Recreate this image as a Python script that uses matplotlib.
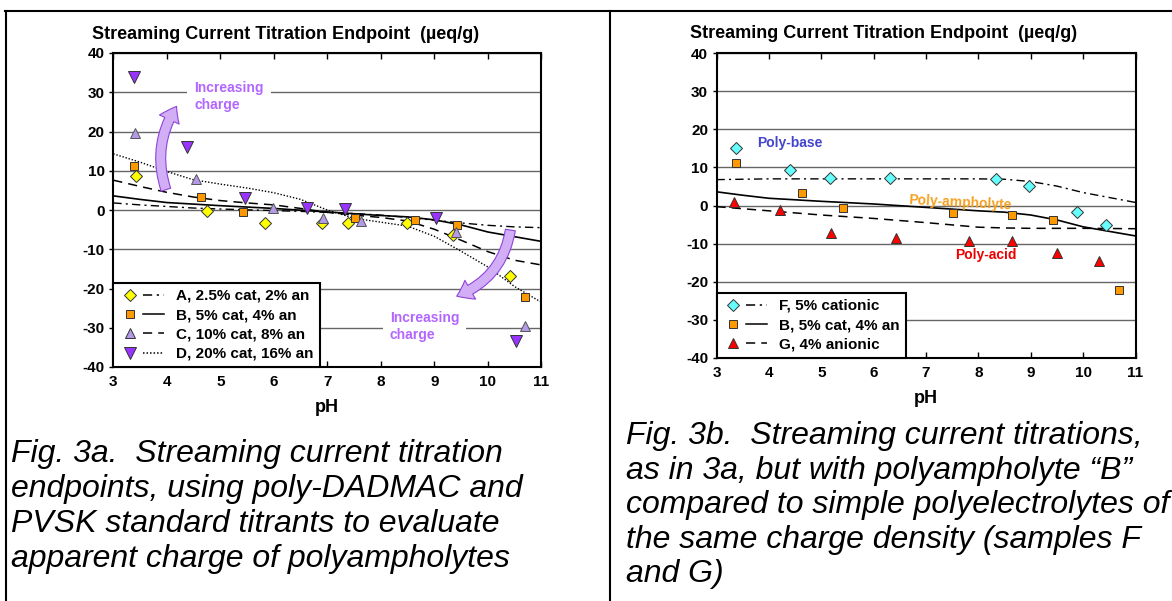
import matplotlib.pyplot as plt
from matplotlib.lines import Line2D
from matplotlib.legend_handler import HandlerTuple
from matplotlib.patches import FancyArrowPatch

plt.rcParams['font.family'] = ['Liberation Sans', 'DejaVu Sans']
plt.rcParams['axes.unicode_minus'] = False

# ---- data ----
# Fig 3a markers
ph_a = [3.42, 4.75, 5.83, 6.91, 7.39, 8.49, 9.35, 10.41]
val_a = [8.6, -0.3, -3.2, -3.2, -3.2, -3.2, -6.4, -16.7]
ph_b = [3.38, 4.64, 5.42, 7.52, 8.64, 9.43, 10.69]
val_b = [11.1, 3.2, -0.6, -2.1, -2.6, -3.9, -22.1]
ph_c = [3.40, 4.54, 5.98, 6.92, 7.63, 9.41, 10.69]
val_c = [19.7, 7.9, 0.5, -2.0, -2.7, -5.6, -29.5]
ph_d = [3.38, 4.38, 5.46, 6.62, 7.34, 9.04, 10.52]
val_d = [33.8, 16.0, 3.1, 0.4, 0.2, -2.0, -33.3]

# Fig 3b markers
ph_f = [3.38, 4.40, 5.17, 6.32, 8.34, 8.97, 9.88, 10.44]
val_f = [15.1, 9.2, 7.1, 7.1, 6.9, 5.0, -1.8, -5.0]
ph_g = [3.33, 4.22, 5.18, 6.42, 7.83, 8.64, 9.50, 10.30]
val_g = [0.8, -1.1, -7.3, -8.5, -9.3, -9.3, -12.4, -14.5]

# trend curves (read at these pH values)
curve_ph = [3, 3.5, 4, 4.5, 5, 5.5, 6, 6.5, 7, 7.5, 8, 8.5, 9, 9.5, 10, 10.5, 11]
curve_a = [1.8, 1.3, 0.9, 0.5, 0.25, 0.05, -0.15, -0.35, -0.6, -0.9, -1.3, -1.9, -2.6, -3.3, -3.9, -4.3, -4.5]
curve_b = [3.6, 2.7, 1.9, 1.5, 1.1, 0.75, 0.4, -0.05, -0.5, -0.95, -1.4, -1.75, -2.5, -3.8, -5.6, -6.8, -8.0]
curve_c = [7.6, 6.0, 4.5, 3.3, 2.4, 1.8, 1.3, 0.4, -0.6, -1.3, -1.9, -2.8, -4.9, -7.7, -10.6, -12.8, -14.0]
curve_d = [14.3, 12.2, 9.8, 7.7, 6.6, 5.6, 4.4, 2.7, 0.0, -2.1, -3.1, -4.1, -6.7, -10.5, -14.5, -19.5, -23.5]
curve_f = [6.8, 6.9, 7.0, 7.0, 7.0, 7.0, 7.0, 7.0, 7.0, 7.0, 7.0, 6.9, 6.3, 5.1, 3.4, 2.1, 0.8]
curve_g = [-0.3, -0.85, -1.4, -1.95, -2.5, -2.95, -3.4, -3.95, -4.5, -5.1, -5.7, -5.9, -6.0, -6.0, -6.0, -6.05, -6.1]

x_ticks = list(range(3, 12))
y_ticks = list(range(-40, 41, 10))

title = 'Streaming Current Titration Endpoint  (\u00b5eq/g)'
caption_a = ('Fig. 3a.  Streaming current titration\n'
             'endpoints, using poly-DADMAC and\n'
             'PVSK standard titrants to evaluate\n'
             'apparent charge of polyampholytes')
caption_b = ('Fig. 3b.  Streaming current titrations,\n'
             'as in 3a, but with polyampholyte \u201cB\u201d\n'
             'compared to simple polyelectrolytes of\n'
             'the same charge density (samples F\n'
             'and G)')

W, H = 1172, 601
fig = plt.figure(figsize=(W / 100, H / 100), dpi=100)


def px_axes(x0, y0, x1, y1):
    return fig.add_axes([x0 / W, 1 - y1 / H, (x1 - x0) / W, (y1 - y0) / H])


def style(ax):
    ax.set_xlim(3, 11)
    ax.set_ylim(-40, 40)
    ax.set_xticks(x_ticks)
    ax.set_yticks(y_ticks)
    ax.yaxis.grid(True, color='#666666', lw=1.0)
    ax.set_axisbelow(True)
    ax.tick_params(axis='x', direction='in', top=True, length=4, width=1, pad=6, labelsize=11)
    ax.tick_params(axis='y', direction='out', length=3, width=1, pad=3, labelsize=11)
    for lab in ax.get_xticklabels() + ax.get_yticklabels():
        lab.set_fontweight('bold')
    for s in ax.spines.values():
        s.set_linewidth(1.5)
    ax.set_xlabel('pH', fontsize=13, fontweight='bold', labelpad=7)


def add_legend(ax, entries):
    handles, labels = [], []
    for mk, ms, fc, ls, lab in entries:
        m = Line2D([], [], ls='none', marker=mk, ms=ms, mfc=fc, mec='#333333', mew=0.7)
        l = Line2D([], [], color='black', lw=1.1, ls=ls)
        handles.append((m, l))
        labels.append(lab)
    leg = ax.legend(handles, labels, handler_map={tuple: HandlerTuple(ndivide=None, pad=0.2)},
                    loc='lower left', bbox_to_anchor=(0, 0), borderaxespad=0,
                    fancybox=False, framealpha=1, edgecolor='black',
                    handlelength=2.9, handletextpad=0.8, labelspacing=0.35, borderpad=0.4,
                    prop={'weight': 'bold', 'size': 11})
    leg.get_frame().set_linewidth(1.5)
    leg.set_zorder(5)


dashdot = (0, (6, 3, 1.5, 3))
dashed = (0, (6, 4))
dotted = (0, (1, 1.3))
purple = '#B266FF'
ms_sq, ms_dia, ms_up, ms_down, ms_red = 6.0, 6.0, 6.5, 8.5, 7.5

# ---- Fig 3a ----
ax1 = px_axes(113.3, 53, 541.3, 367)
style(ax1)
ax1.plot(curve_ph, curve_a, color='black', lw=1.0, ls=dashdot, zorder=2)
ax1.plot(curve_ph, curve_b, color='black', lw=1.2, ls='-', zorder=2)
ax1.plot(curve_ph, curve_c, color='black', lw=1.1, ls=dashed, zorder=2)
ax1.plot(curve_ph, curve_d, color='black', lw=1.0, ls=dotted, zorder=2)
ax1.plot(ph_a, val_a, ls='none', marker='D', ms=ms_dia, mfc='#FFFF00', mec='#333333', mew=0.7, zorder=3)
ax1.plot(ph_b, val_b, ls='none', marker='s', ms=ms_sq, mfc='#FF9900', mec='#333333', mew=0.7, zorder=3)
ax1.plot(ph_c, val_c, ls='none', marker='^', ms=ms_up, mfc='#B399E6', mec='#555555', mew=0.7, zorder=3)
ax1.plot(ph_d, val_d, ls='none', marker='v', ms=ms_down, mfc='#9933FF', mec='#333333', mew=0.7, zorder=3)

add_legend(ax1, [('D', ms_dia, '#FFFF00', dashdot, 'A, 2.5% cat, 2% an'),
                 ('s', ms_sq, '#FF9900', '-', 'B, 5% cat, 4% an'),
                 ('^', ms_up, '#B399E6', dashed, 'C, 10% cat, 8% an'),
                 ('v', ms_down, '#9933FF', dotted, 'D, 20% cat, 16% an')])

ax1.text(4.51, 28.9, 'Increasing\ncharge', color=purple, fontsize=10, fontweight='bold',
         ha='left', va='center', linespacing=1.3,
         bbox=dict(fc='white', ec='none', pad=5), zorder=3)
ax1.text(8.17, -29.7, 'Increasing\ncharge', color=purple, fontsize=10, fontweight='bold',
         ha='left', va='center', linespacing=1.3,
         bbox=dict(fc='white', ec='none', pad=5), zorder=3)

arrow_style = 'simple,head_length=0.9,head_width=1.3,tail_width=0.6'
ax1.add_patch(FancyArrowPatch((4.0, 4.5), (4.21, 27.0), connectionstyle='arc3,rad=-0.25',
                              arrowstyle=arrow_style, mutation_scale=12,
                              fc='#D2AEF7', ec='#8E44D8', lw=0.8, zorder=4))
ax1.add_patch(FancyArrowPatch((10.43, -4.4), (9.37, -22.2), connectionstyle='arc3,rad=-0.3',
                              arrowstyle=arrow_style, mutation_scale=12,
                              fc='#D2AEF7', ec='#8E44D8', lw=0.8, zorder=4))

# ---- Fig 3b ----
ax2 = px_axes(716.5, 53.3, 1135.5, 357.7)
style(ax2)
ax2.plot(curve_ph, curve_f, color='black', lw=1.0, ls=dashdot, zorder=2)
ax2.plot(curve_ph, curve_b, color='black', lw=1.2, ls='-', zorder=2)
ax2.plot(curve_ph, curve_g, color='black', lw=1.1, ls=dashed, zorder=2)
ax2.plot(ph_f, val_f, ls='none', marker='D', ms=ms_dia, mfc='#66FFFF', mec='#333333', mew=0.7, zorder=3)
ax2.plot(ph_b, val_b, ls='none', marker='s', ms=ms_sq, mfc='#FF9900', mec='#333333', mew=0.7, zorder=3)
ax2.plot(ph_g, val_g, ls='none', marker='^', ms=ms_red, mfc='#FF0000', mec='#333333', mew=0.7, zorder=3)

add_legend(ax2, [('D', ms_dia, '#66FFFF', dashdot, 'F, 5% cationic'),
                 ('s', ms_sq, '#FF9900', '-', 'B, 5% cat, 4% an'),
                 ('^', ms_red, '#FF0000', dashed, 'G, 4% anionic')])

ax2.text(3.78, 16.4, 'Poly-base', color='#4444CC', fontsize=10, fontweight='bold', ha='left', va='center')
ax2.text(6.67, 1.4, 'Poly-ampholyte', color='#F5A020', fontsize=10, fontweight='bold',
         ha='left', va='center', rotation=-3, rotation_mode='anchor')
ax2.text(7.55, -13.0, 'Poly-acid', color='#EE0000', fontsize=10, fontweight='bold', ha='left', va='center')

# ---- titles, captions, frame lines ----
fig.text(285.5 / W, 1 - 39 / H, title, ha='center', va='baseline', fontsize=13, fontweight='bold')
fig.text(884 / W, 1 - 38.5 / H, title, ha='center', va='baseline', fontsize=13, fontweight='bold')

fig.text(10.7 / W, 1 - 439 / H, caption_a, ha='left', va='top', fontsize=23, style='italic', linespacing=1.22)
fig.text(626 / W, 1 - 421 / H, caption_b, ha='left', va='top', fontsize=23, style='italic', linespacing=1.2)

for xs, ys in [([5, W], [11, 11]), ([6, 6], [11, H]), ([610, 610], [11, H])]:
    fig.add_artist(Line2D([x / W for x in xs], [1 - y / H for y in ys], color='black', lw=1.5))

fig.savefig('out.png', dpi=100)
